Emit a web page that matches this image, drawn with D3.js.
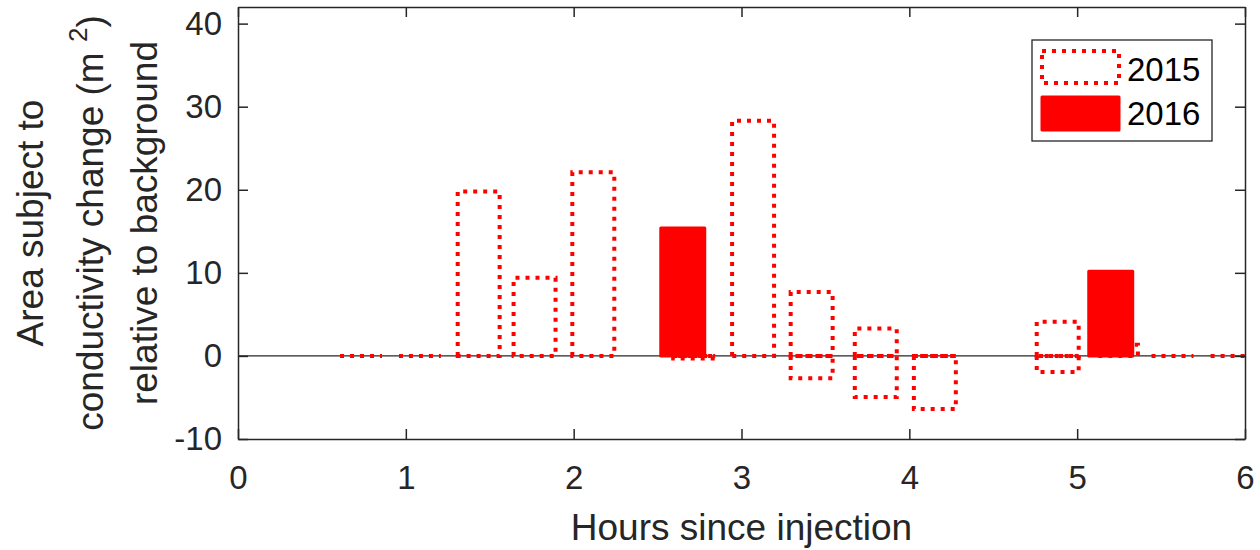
<!DOCTYPE html>
<html>
<head>
<meta charset="utf-8">
<script src="https://cdn.jsdelivr.net/npm/d3@7"></script>
<style>
  html, body { margin: 0; padding: 0; background: #fff; }
  svg { display: block; font-family: "Liberation Sans", Arial, Helvetica, sans-serif; }
</style>
</head>
<body>
<svg id="chart" width="1260" height="550"></svg>
<script>
// ---- data ----
const hours2015 = [0.733, 1.084, 1.434, 1.767, 2.117, 2.718, 3.069, 3.418, 3.80, 4.152, 4.884, 5.237, 5.568, 5.92];
const pos2015   = [0,     0,     19.8,  9.4,   22.1,  0,     28.3,  7.7,   3.3,  0,     4.1,   1.35,  0,     0];
const neg2015   = [0,     0,     0,     0,     0,     -0.3,  0,     -2.7,  -4.95, -6.4, -1.95, 0,     0,     0];
const hours2016 = [2.65, 5.20];
const vals2016  = [15.4, 10.2];
const xTicks = [0, 1, 2, 3, 4, 5, 6];
const yTicks = [-10, 0, 10, 20, 30, 40];
const legendLabels = ["2015", "2016"];

// ---- layout ----
const L = 238, R = 1245, T = 7, B = 439;
const barW2015 = 0.25, barW2016 = 0.262;
const axisColor = "#262626";
const red = "#ff0000";

const svg = d3.select("#chart");
const x = d3.scaleLinear().domain([0, 6]).range([L, R]);
const y = d3.scaleLinear().domain([-10, 42]).range([B, T]);

svg.append("defs").append("clipPath").attr("id", "plotclip")
  .append("rect").attr("x", L).attr("y", T).attr("width", R - L).attr("height", B - T);

// zero line
svg.append("line")
  .attr("x1", x(0)).attr("x2", x(6)).attr("y1", y(0)).attr("y2", y(0))
  .attr("stroke", axisColor).attr("stroke-width", 1.3);

function barPath(h, v, w) {
  const x0 = x(h - w / 2), x1 = x(h + w / 2), y0 = y(0), y1 = y(v);
  if (v === 0) return `M${x0},${y0}H${x1}`;
  return `M${x0},${y0}V${y1}H${x1}V${y0}Z`;
}

const plot = svg.append("g").attr("clip-path", "url(#plotclip)");

// 2015 positive
plot.selectAll("path.p2015").data(hours2015.map((h, i) => [h, pos2015[i]]))
  .join("path").attr("class", "p2015")
  .attr("d", d => barPath(d[0], d[1], barW2015))
  .attr("fill", "none").attr("stroke", red).attr("stroke-width", 4)
  .attr("stroke-dasharray", "4 6");

// 2015 negative
plot.selectAll("path.n2015").data(hours2015.map((h, i) => [h, neg2015[i]]).filter(d => d[1] !== 0))
  .join("path").attr("class", "n2015")
  .attr("d", d => barPath(d[0], d[1], barW2015))
  .attr("fill", "none").attr("stroke", red).attr("stroke-width", 4)
  .attr("stroke-dasharray", "4 6");

// 2016 solid
plot.selectAll("path.s2016").data(hours2016.map((h, i) => [h, vals2016[i]]))
  .join("path").attr("class", "s2016")
  .attr("d", d => barPath(d[0], d[1], barW2016))
  .attr("fill", red).attr("stroke", red).attr("stroke-width", 3)
  .attr("stroke-linejoin", "round");

// ---- axes (box with inward ticks) ----
const tickLen = 10;
const fmt = d => String(d);
const bottomAxis = d3.axisBottom(x).tickValues(xTicks).tickSizeInner(-tickLen).tickSizeOuter(0).tickPadding(27).tickFormat(fmt);
const leftAxis = d3.axisLeft(y).tickValues(yTicks).tickSizeInner(-tickLen).tickSizeOuter(0).tickPadding(16).tickFormat(fmt);
const topAxis = d3.axisTop(x).tickValues(xTicks).tickSizeInner(-tickLen).tickSizeOuter(0).tickFormat("");
const rightAxis = d3.axisRight(y).tickValues(yTicks).tickSizeInner(-tickLen).tickSizeOuter(0).tickFormat("");

function styleAxis(g) {
  g.selectAll("path.domain").attr("stroke", axisColor).attr("stroke-width", 1.5);
  g.selectAll(".tick line").attr("stroke", axisColor).attr("stroke-width", 1.5);
  g.selectAll(".tick text").attr("fill", axisColor).style("font-size", "33px")
    .style("font-family", "'Liberation Sans', Arial, sans-serif");
}
svg.append("g").attr("transform", `translate(0,${B})`).call(bottomAxis).call(styleAxis)
  .selectAll(".tick text").attr("dy", "0.71em");
svg.append("g").attr("transform", `translate(${L},0)`).call(leftAxis).call(styleAxis);
svg.append("g").attr("transform", `translate(0,${T})`).call(topAxis).call(styleAxis);
svg.append("g").attr("transform", `translate(${R},0)`).call(rightAxis).call(styleAxis);

// ---- axis labels ----
svg.append("text").attr("x", (L + R) / 2).attr("y", 540)
  .attr("text-anchor", "middle").attr("fill", axisColor).style("font-size", "37px")
  .text("Hours since injection");

const yl = svg.append("g").attr("transform", `translate(0,${(T + B) / 2}) rotate(-90)`);
yl.append("text").attr("x", 0).attr("y", 43).attr("text-anchor", "middle")
  .attr("fill", axisColor).style("font-size", "37px").text("Area subject to");
const l2 = yl.append("text").attr("x", 0).attr("y", 103).attr("text-anchor", "middle")
  .attr("fill", axisColor).style("font-size", "37px");
l2.append("tspan").text("conductivity change (m ");
l2.append("tspan").attr("dy", -16).style("font-size", "26px").text("2");
l2.append("tspan").attr("dy", 16).text(")");
yl.append("text").attr("x", 0).attr("y", 157).attr("text-anchor", "middle")
  .attr("fill", axisColor).style("font-size", "37px").text("relative to background");

// ---- legend ----
const lg = svg.append("g");
lg.append("rect").attr("x", 1032).attr("y", 40).attr("width", 180).attr("height", 101)
  .attr("fill", "#fff").attr("stroke", axisColor).attr("stroke-width", 1.3);
lg.append("rect").attr("x", 1042).attr("y", 51).attr("width", 77).attr("height", 32)
  .attr("fill", "none").attr("stroke", red).attr("stroke-width", 4).attr("stroke-dasharray", "4 6");
lg.append("rect").attr("x", 1042).attr("y", 97).attr("width", 77).attr("height", 33)
  .attr("fill", red).attr("stroke", red).attr("stroke-width", 3).attr("stroke-linejoin", "round");
lg.selectAll("text.lt").data(legendLabels).join("text").attr("class", "lt")
  .attr("x", 1127).attr("y", (d, i) => 81 + i * 44)
  .attr("fill", "#000").style("font-size", "33px").text(d => d);
</script>
</body>
</html>
